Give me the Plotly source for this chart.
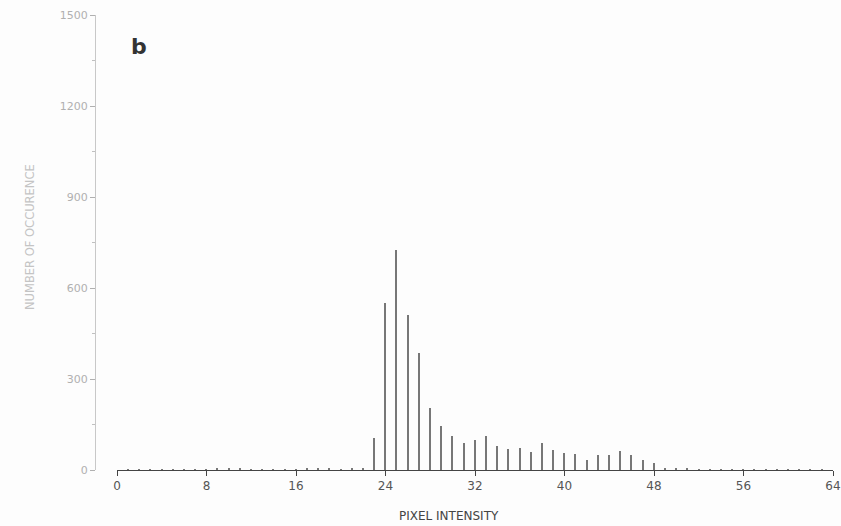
import plotly.graph_objects as go

# Pixel intensity bins and their counts
intensity = list(range(0, 64))
counts = [0, 1, 1, 1, 1, 1, 2, 2, 3, 4, 5, 4, 3, 2, 2, 2,
          3, 4, 4, 4, 3, 4, 6, 105, 550, 725, 510, 385, 205, 145, 113, 90,
          100, 111, 79, 70, 74, 58, 90, 66, 57, 53, 33, 48, 48, 64, 48, 32,
          24, 6, 4, 4, 3, 3, 2, 2, 3, 2, 2, 2, 2, 2, 2, 2]

x_ticks = [0, 8, 16, 24, 32, 40, 48, 56, 64]
y_ticks = [0, 300, 600, 900, 1200, 1500]

W, H = 841, 526
# target screen positions
ax_y_x, x0_px, x64_px, top_px, base_px = 95, 117, 833, 15, 470
ml = ax_y_x
mt = top_px
mr = W - x64_px
mb = H - base_px
pw = W - ml - mr
ph = H - mt - mb


def px(xs):
    return (xs - ml) / pw


def py(ys):
    return (H - mb - ys) / ph


fig = go.Figure()
fig.add_trace(go.Bar(x=intensity, y=counts, width=0.13,
                     marker=dict(color="#777777", line=dict(width=0)),
                     showlegend=False, cliponaxis=False))

fig.update_layout(
    width=W, height=H,
    margin=dict(l=ml, r=mr, t=mt, b=mb, autoexpand=False),
    paper_bgcolor="#fdfdfd", plot_bgcolor="#fdfdfd",
    font=dict(family="DejaVu Sans", size=11, color="#555"),
    bargap=0,
    xaxis=dict(range=[0, 64], domain=[px(x0_px), 1], automargin=False,
               tickvals=x_ticks, ticktext=[str(v) for v in x_ticks],
               ticklabeloverflow="allow",
               showline=True, linecolor="#444", linewidth=1,
               ticks="outside", ticklen=5, tickcolor="#444",
               showgrid=False, zeroline=False,
               tickfont=dict(size=12, color="#555")),
    yaxis=dict(range=[0, 1500], anchor="free", position=0, automargin=False,
               tickvals=y_ticks, ticktext=[str(v) for v in y_ticks],
               showline=True, linecolor="#c8c8c8", linewidth=1,
               ticks="outside", ticklen=5, tickcolor="#b0b0b0",
               minor=dict(ticks="outside", ticklen=3, tickcolor="#c0c0c0", dtick=150),
               showgrid=False, zeroline=False,
               tickfont=dict(size=11, color="#b0b0b0")),
)

fig.add_annotation(text="<b>b</b>", xref="paper", yref="paper",
                   x=px(139), y=py(47), xanchor="center", yanchor="middle",
                   showarrow=False, font=dict(size=22, color="#333"))
fig.add_annotation(text="NUMBER OF OCCURENCE", xref="paper", yref="paper",
                   x=px(30), y=py(237), textangle=-90,
                   xanchor="center", yanchor="middle",
                   showarrow=False, font=dict(size=11.5, color="#c4c4c4"))
fig.add_annotation(text="PIXEL INTENSITY", xref="paper", yref="paper",
                   x=px(449), y=py(516), xanchor="center", yanchor="middle",
                   showarrow=False, font=dict(size=12, color="#444"))

fig.write_html(
    "out.html",
    config={"displayModeBar": False},
    post_script="document.body.style.margin='0';document.body.style.overflow='hidden';",
)
